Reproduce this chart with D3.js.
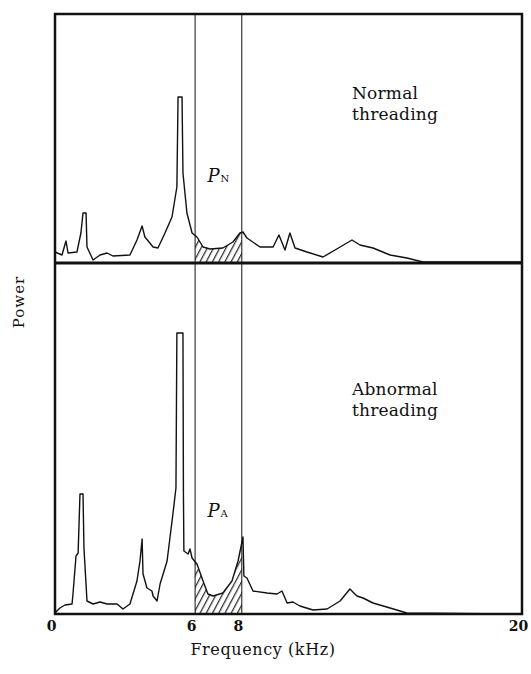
<!DOCTYPE html>
<html><head><meta charset="utf-8">
<script src="https://cdn.jsdelivr.net/npm/d3@7"></script>
<style>body{margin:0;background:#fff}svg{display:block}</style>
</head><body>
<script>
// Frequency (kHz) and power (arbitrary units)
const normalFreq  = [0,0.30,0.47,0.56,0.94,1.11,1.20,1.33,1.37,1.63,1.93,2.23,2.48,3.21,3.51,3.73,3.85,4.20,4.41,4.71,5.01,5.22,5.27,5.44,5.48,5.65,5.87,6.08,6.34,6.64,7.19,7.62,7.92,8.05,8.22,8.78,9.34,9.59,9.85,10.06,10.28,10.79,11.48,12.21,12.72,13.06,13.62,14.35,15.07,15.76,20];
const normalPower = [11,8,22,10,11,30,50,50,16,3,8,10,7,8,23,37,26,16,15,30,46,76,166,166,90,50,30,26,16,14,15,21,30,31,25,16,16,28,13,30,15,11,6,16,23,18,15,8,5,1,1];
const abnormalFreq  = [0,0.21,0.43,0.73,0.77,0.90,0.99,1.07,1.20,1.24,1.37,1.63,1.93,2.23,2.66,2.91,3.21,3.51,3.64,3.73,3.77,3.94,4.15,4.20,4.37,4.50,4.80,5.05,5.18,5.22,5.48,5.50,5.52,5.70,5.78,5.87,6.08,6.34,6.55,6.77,7.19,7.58,7.84,8.05,8.09,8.22,8.48,9.08,9.51,9.72,9.94,10.19,10.49,11.05,11.65,12.21,12.63,12.93,13.19,13.62,14.35,15.07,20];
const abnormalPower = [1,6,9,10,20,58,61,120,120,66,13,10,12,10,10,5,10,33,53,75,40,26,23,18,13,30,53,100,126,281,281,120,63,60,65,56,50,33,20,18,21,33,53,77,38,36,23,21,20,23,11,12,8,4,5,13,25,18,16,11,6,1,0];
const tickValues = [0,6,8,20];
const bandLimits = [6,8];
const panelLabels = [["Normal","threading"],["Abnormal","threading"]];
const bandLabels = [["P","N"],["P","A"]];

const FONT='DejaVu Serif';
const W=531,H=674;
const L=55,R=522,T=14,M=263,B=614;
const svg=d3.select("body").append("svg").attr("width",W).attr("height",H);
const x=d3.scaleLinear().domain([0,20]).range([L,R]);
const yTop=d3.scaleLinear().domain([0,249]).range([M,T]);
const yBot=d3.scaleLinear().domain([0,351]).range([B,M]);

const defs=svg.append("defs");
const pat=defs.append("pattern").attr("id","hatch").attr("patternUnits","userSpaceOnUse")
  .attr("width",5.5).attr("height",10).attr("patternTransform","rotate(28)");
pat.append("line").attr("x1",2.5).attr("x2",2.5).attr("y1",0).attr("y2",10).attr("stroke","#111").attr("stroke-width",1.1);
defs.append("clipPath").attr("id","band").append("rect")
  .attr("x",x(bandLimits[0])).attr("width",x(bandLimits[1])-x(bandLimits[0])).attr("y",T).attr("height",B-T);

function panel(fr,pw,y,labels,band,ty,py){
  const data=fr.map((f,i)=>[f,pw[i]]);
  svg.append("path").datum(data).attr("clip-path","url(#band)")
    .attr("d",d3.area().x(d=>x(d[0])).y0(y(0)).y1(d=>y(d[1])))
    .attr("fill","url(#hatch)");
  svg.append("path").datum(data)
    .attr("d",d3.line().x(d=>x(d[0])).y(d=>y(d[1])))
    .attr("fill","none").attr("stroke","#111").attr("stroke-width",1.4).attr("stroke-linejoin","round");
  const t=svg.append("text").attr("x",352).attr("y",ty).style("font-family",FONT).attr("fill","#111")
    .attr("font-size",17).attr("letter-spacing","0.2px");
  t.append("tspan").attr("x",352).text(labels[0]);
  t.append("tspan").attr("x",352).attr("dy",21).text(labels[1]);
  const p=svg.append("text").attr("x",x(7)-11).attr("y",py).style("font-family",FONT).attr("fill","#111")
    .attr("font-size",18).attr("font-style","italic");
  p.append("tspan").text(band[0]);
  p.append("tspan").attr("font-size",10).attr("font-style","normal").attr("dx",1).text(band[1]);
}
panel(normalFreq,normalPower,yTop,panelLabels[0],bandLabels[0],99,182);
panel(abnormalFreq,abnormalPower,yBot,panelLabels[1],bandLabels[1],395,517);

// band limit lines
svg.selectAll(".vl").data(bandLimits).enter().append("line")
  .attr("x1",d=>x(d)).attr("x2",d=>x(d)).attr("y1",T).attr("y2",B)
  .attr("stroke","#111").attr("stroke-width",1);

// frames
svg.append("rect").attr("x",L).attr("y",T).attr("width",R-L).attr("height",B-T)
  .attr("fill","none").attr("stroke","#111").attr("stroke-width",2.5);
svg.append("line").attr("x1",L).attr("x2",R).attr("y1",M).attr("y2",M).attr("stroke","#111").attr("stroke-width",3);

// x axis
const ax=svg.append("g").attr("transform",`translate(0,${B})`)
  .call(d3.axisBottom(x).tickValues(tickValues).tickSize(0).tickPadding(8).tickFormat(d3.format("d")));
ax.select(".domain").remove();
ax.selectAll("text").style("font-family",FONT).attr("dx",-4).attr("dy",0).attr("y",17).attr("font-size",14).attr("font-weight","bold").attr("fill","#111");

svg.append("text").attr("x",263).attr("y",655).attr("text-anchor","middle").style("font-family",FONT).attr("fill","#111")
  .attr("font-size",16).attr("letter-spacing","0.6px").text("Frequency (kHz)");
svg.append("text").attr("transform","translate(24,302) rotate(-90)").attr("text-anchor","middle").style("font-family",FONT).attr("fill","#111")
  .attr("font-size",15).attr("letter-spacing","1px").text("Power");
</script>
</body></html>
